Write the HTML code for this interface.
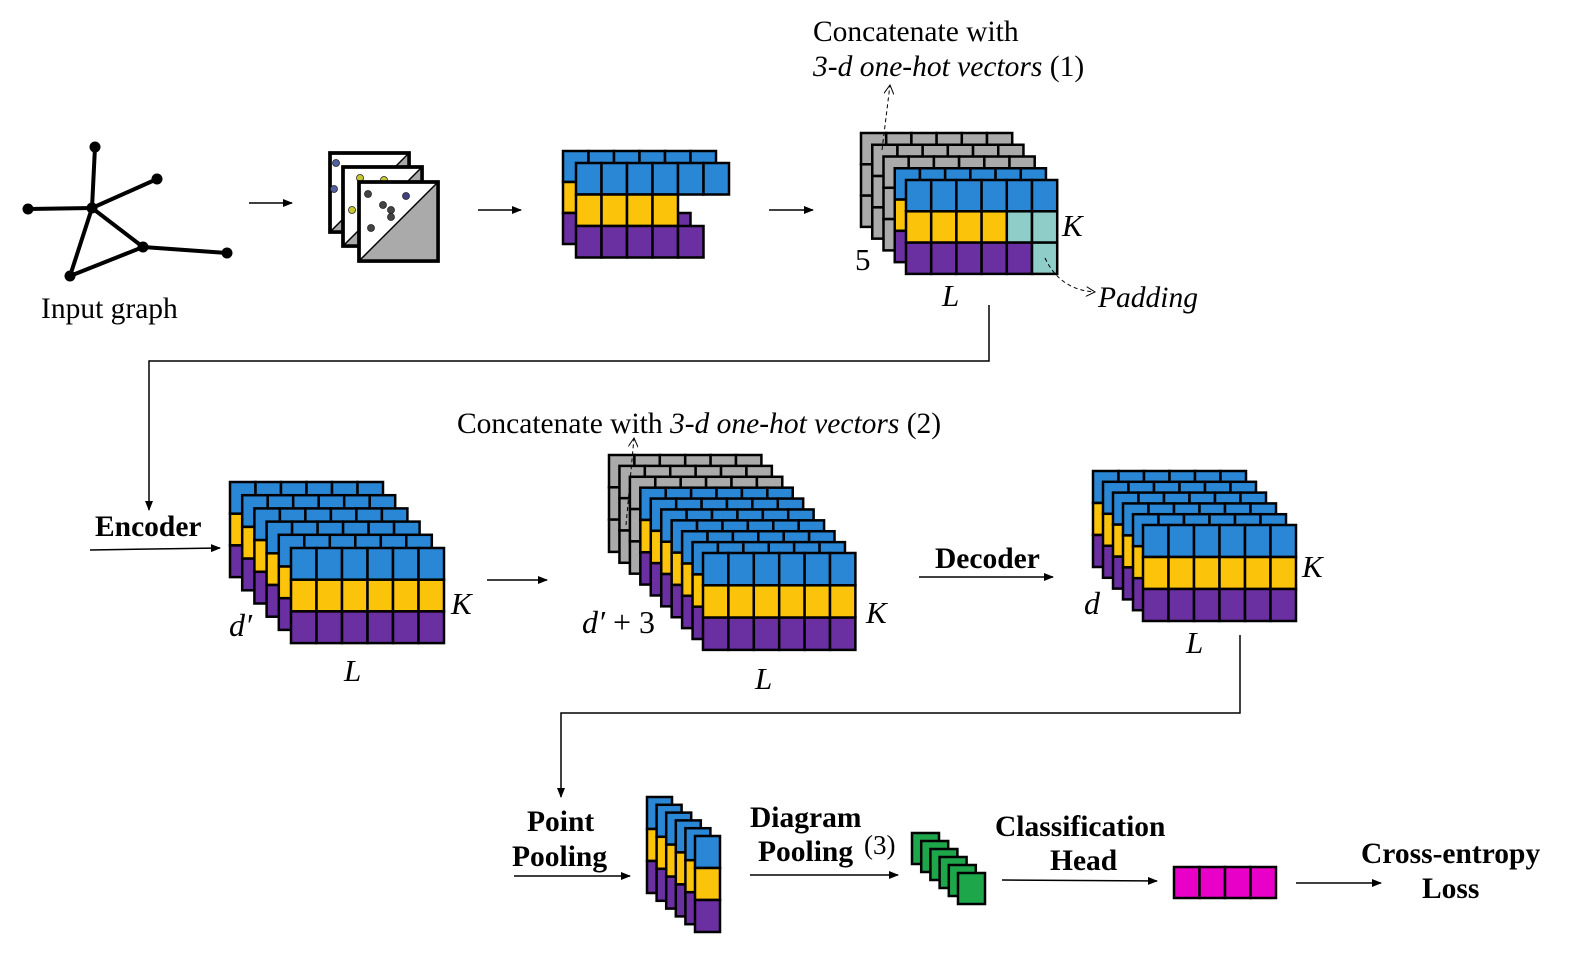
<!DOCTYPE html>
<html><head><meta charset="utf-8"><style>
html,body{margin:0;padding:0;background:#fff;}
svg{display:block;}
svg text{font-family:"Liberation Serif","Times New Roman","DejaVu Serif",serif !important;fill:#000;}
.b{font-weight:bold;font-size:29.5px;}
.i{font-style:italic;}
</style></head><body>
<svg id="s" width="1571" height="961" viewBox="0 0 1571 961" xmlns="http://www.w3.org/2000/svg" font-family="Liberation Serif, Times New Roman, serif">
<defs><marker id="ar" markerWidth="10" markerHeight="8" refX="9" refY="4" orient="auto" markerUnits="userSpaceOnUse"><path d="M0,0 L10,4 L0,8 z" fill="#000"/></marker>
<marker id="oa" markerWidth="10" markerHeight="10" refX="9" refY="5" orient="auto" markerUnits="userSpaceOnUse"><path d="M0,0 L9,5 L0,10" fill="none" stroke="#000" stroke-width="1"/></marker></defs>
<g stroke="#000" stroke-width="4">
<line x1="95" y1="147" x2="92" y2="208"/><line x1="92" y1="208" x2="157" y2="179"/><line x1="28" y1="209" x2="92" y2="208"/><line x1="92" y1="208" x2="143" y2="247"/><line x1="92" y1="208" x2="70" y2="276"/><line x1="70" y1="276" x2="143" y2="247"/><line x1="143" y1="247" x2="227" y2="253"/>
</g>
<g fill="#000"><circle cx="95" cy="147" r="5.5"/><circle cx="157" cy="179" r="5.5"/><circle cx="28" cy="209" r="5.5"/><circle cx="92" cy="208" r="5.5"/><circle cx="143" cy="247" r="5.5"/><circle cx="227" cy="253" r="5.5"/><circle cx="70" cy="276" r="5.5"/></g>
<text x="41" y="318" font-size="29.5">Input graph</text>
<g id="sq"></g>
<g stroke="#000" stroke-width="1.5" fill="none">
<line x1="249" y1="203" x2="292" y2="203" marker-end="url(#ar)"/>
<line x1="478" y1="210" x2="521" y2="210" marker-end="url(#ar)"/>
<line x1="769" y1="210" x2="813" y2="210" marker-end="url(#ar)"/>
<polyline points="989,305 989,361 149,361 149,510" marker-end="url(#ar)"/>
<line x1="90" y1="550" x2="220" y2="548" marker-end="url(#ar)"/>
<line x1="487" y1="580" x2="547" y2="580" marker-end="url(#ar)"/>
<line x1="919" y1="577" x2="1053" y2="577" marker-end="url(#ar)"/>
<polyline points="1240,635 1240,713 561,713 561,797" marker-end="url(#ar)"/>
<line x1="514" y1="876" x2="630" y2="876" marker-end="url(#ar)"/>
<line x1="750" y1="875" x2="898" y2="875" marker-end="url(#ar)"/>
<line x1="1002" y1="880" x2="1157" y2="881" marker-end="url(#ar)"/>
<line x1="1296" y1="883" x2="1381" y2="883" marker-end="url(#ar)"/>
</g>
<g id="grids"></g>
<g stroke="#000" stroke-width="1" fill="none" stroke-dasharray="4,3">
<line x1="882" y1="150" x2="890" y2="85" marker-end="url(#oa)"/>
<path d="M1045,258 Q1060,290 1095,292" marker-end="url(#oa)"/>
<line x1="626" y1="525" x2="634" y2="438" marker-end="url(#oa)"/>
</g>
<text x="813" y="41" font-size="29.5">Concatenate with</text>
<text x="813" y="76" font-size="29.5"><tspan class="i">3-d one-hot vectors</tspan>  (1)</text>
<text x="1062" y="236" font-size="31" class="i">K</text>
<text x="855" y="270" font-size="31">5</text>
<text x="942" y="306" font-size="31" class="i">L</text>
<text x="1098" y="307" font-size="29.5" class="i">Padding</text>
<text x="457" y="433" font-size="29.5">Concatenate with <tspan class="i">3-d one-hot vectors</tspan>  (2)</text>
<text x="95" y="536" class="b">Encoder</text>
<text x="229" y="636" font-size="32" class="i">d′</text>
<text x="451" y="614" font-size="31" class="i">K</text>
<text x="344" y="681" font-size="31" class="i">L</text>
<text x="582" y="633" font-size="32"><tspan class="i">d′</tspan> + 3</text>
<text x="866" y="623" font-size="31" class="i">K</text>
<text x="755" y="689" font-size="31" class="i">L</text>
<text x="935" y="568" class="b">Decoder</text>
<text x="1084" y="614" font-size="32" class="i">d</text>
<text x="1302" y="577" font-size="31" class="i">K</text>
<text x="1186" y="653" font-size="31" class="i">L</text>
<text x="527" y="831" class="b">Point</text>
<text x="512" y="866" class="b">Pooling</text>
<text x="750" y="827" class="b">Diagram</text>
<text x="758" y="861" class="b">Pooling</text>
<text x="864" y="854" font-size="27">(3)</text>
<text x="995" y="836" class="b">Classification</text>
<text x="1050" y="870" class="b">Head</text>
<text x="1361" y="863" class="b">Cross-entropy</text>
<text x="1422" y="898" class="b">Loss</text>
</svg>
<script>
var NS="http://www.w3.org/2000/svg";
function R(g,x,y,w,h,f,sw){var r=document.createElementNS(NS,"rect");r.setAttribute("x",x);r.setAttribute("y",y);r.setAttribute("width",w);r.setAttribute("height",h);r.setAttribute("fill",f);r.setAttribute("stroke","#000");r.setAttribute("stroke-width",sw||2.5);g.appendChild(r);}
var B="#2a87d6",Y="#fbc30a",P="#6a2fa0",G="#aaaaaa",T="#8ecdc8",GR="#1ea64b",M="#e800c8";
var g=document.getElementById("grids");
function layer(x,y,cw,ch,rows){for(var r=0;r<rows.length;r++)for(var c=0;c<rows[r].length;c++)R(g,x+c*cw,y+r*ch,cw,ch,rows[r][c]);}
function rep(col,n){var a=[];for(var i=0;i<n;i++)a.push(col);return a;}
function full(cols){return [rep(B,cols),rep(Y,cols),rep(P,cols)];}
function grayL(cols){return [rep(G,cols),rep(G,cols),rep(G,cols)];}
function stack(x0,y0,x1,y1,n,cw,ch,cols,ng,last){for(var i=0;i<n;i++){var t=n>1?i/(n-1):0;var x=x0+(x1-x0)*t,y=y0+(y1-y0)*t;var rows=i<ng?grayL(cols):(i==n-1&&last?last:full(cols));layer(x,y,cw,ch,rows);}}
layer(563,151,25.5,31,[rep(B,6),rep(Y,4),rep(P,5)]);
layer(576,163,25.5,31.5,[rep(B,6),rep(Y,4),rep(P,5)]);
stack(861,133,906,180,5,25.2,31.3,6,3,[rep(B,6),[Y,Y,Y,Y,T,T],[P,P,P,P,P,T]]);
stack(230,482,291,548,6,25.5,31.7,6,0);
stack(609,455,703,553,10,25.4,32.3,6,3);
stack(1093,471,1143,525,6,25.5,32,6,0);
for(var i=0;i<6;i++){layer(647+i*9.6,797+i*7.8,25,32,[[B],[Y],[P]]);}
for(var i=0;i<6;i++){R(g,912+i*9.2,833+i*8,27,31,GR);}
for(var i=0;i<4;i++)R(g,1174+i*25.5,867,25.5,31,M);
var sq=document.getElementById("sq");
var pos=[[330,153],[343,167],[359,182]];
var dots=[[[336,163,"#5060a0"],[334,189,"#5060a0"]],[[360,178,"#c8c830"],[384,180,"#c8c830"],[352,210,"#c8c830"]],[[368,194,"#444"],[406,196,"#404080"],[383,205,"#444"],[391,210,"#444"],[391,217,"#444"],[371,228,"#444"]]];
for(var k=0;k<3;k++){var x=pos[k][0],y=pos[k][1],s=79;R(sq,x,y,s,s,"#fff",3.5);var p=document.createElementNS(NS,"path");p.setAttribute("d","M"+x+","+(y+s)+" L"+(x+s)+","+y+" L"+(x+s)+","+(y+s)+"z");p.setAttribute("fill","#aaa");p.setAttribute("stroke","#000");p.setAttribute("stroke-width","1.5");sq.appendChild(p);R(sq,x,y,s,s,"none",3.5);
dots[k].forEach(function(d){var c=document.createElementNS(NS,"circle");c.setAttribute("cx",d[0]);c.setAttribute("cy",d[1]);c.setAttribute("r",3.5);c.setAttribute("fill",d[2]);c.setAttribute("stroke","#222");c.setAttribute("stroke-width",0.8);sq.appendChild(c);});}
</script>
</body></html>
